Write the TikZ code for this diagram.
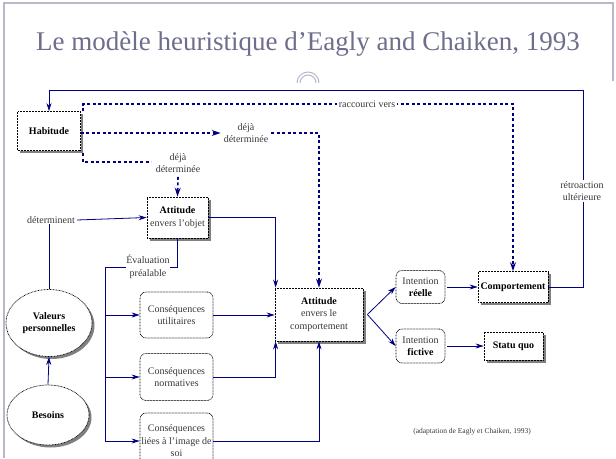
\documentclass[tikz,border=0pt]{standalone}
\usepackage{fontspec}
\setmainfont{Liberation Serif}
\usetikzlibrary{shapes.geometric,shadows,arrows.meta}
\definecolor{navy}{HTML}{000080}
\definecolor{titlecol}{HTML}{6E6E8C}
\definecolor{framecol}{HTML}{B8B8CC}
\begin{document}
\begin{tikzpicture}[x=1pt,y=-1pt,
  every node/.style={font=\fontsize{10}{12.5}\selectfont, text=black!78, align=center, inner sep=0pt},
  shadowed/.style={drop shadow={shadow xshift=2.5pt,shadow yshift=-2.5pt,fill=black!50,opacity=1}},
  border/.style={draw=black, line width=0.75pt, dash pattern=on 0.75pt off 0.75pt},
  box/.style={border, fill=white, rectangle, shadowed},
  rbox/.style={border, fill=white, rectangle, rounded corners=6pt},
  ell/.style={border, fill=white, ellipse, shadowed},
  lbl/.style={fill=white, inner sep=1.5pt},
  tip/.style={-{Stealth[length=8pt,width=5pt]}},
  line/.style={draw=navy, line width=0.8pt},
  con/.style={line, tip},
  dsh/.style={draw=navy, line width=1.6pt, dash pattern=on 3pt off 2.5pt},
  dcon/.style={dsh, -{Stealth[length=9pt,width=6pt]}}
]
\useasboundingbox (0,0) rectangle (616,458);
% slide frame
\draw[framecol, line width=1.5pt] (4,458) -- (4,3) -- (613,3) -- (613,81);
\node[font=\fontsize{27}{30}\selectfont, text=titlecol, anchor=base] (title) at (308,50) {Le modèle heuristique d’Eagly and Chaiken, 1993};
\draw[framecol, line width=1pt] (297,83) arc[start angle=180,end angle=360,radius=11];
\draw[framecol, line width=1pt] (300,83) arc[start angle=180,end angle=360,radius=8];

% nodes
\node[box, minimum width=63pt, minimum height=39pt] (hab) at (49,131) {\textbf{\color{black}Habitude}};
\node[box, minimum width=61pt, minimum height=41pt] (attobj) at (177.5,217.5) {\textbf{\color{black}Attitude}\\envers l’objet};
\node[ell, minimum width=86pt, minimum height=67pt] (val) at (49,323) {\textbf{\color{black}Valeurs}\\\textbf{\color{black}personnelles}};
\node[ell, minimum width=82pt, minimum height=60pt] (bes) at (48,415) {\textbf{\color{black}Besoins}};
\node[rbox, minimum width=73pt, minimum height=46pt] (util) at (176.5,315) {Conséquences\\utilitaires};
\node[rbox, minimum width=73pt, minimum height=47pt] (norm) at (176.5,377) {Conséquences\\normatives};
\node[rbox, minimum width=73pt, minimum height=56pt] (soi) at (176.5,441) {Conséquences\\liées à l’image de\\soi};
\node[box, minimum width=88pt, minimum height=53pt] (attcomp) at (319,314.5) {\textbf{\color{black}Attitude}\\envers le\\comportement};
\node[rbox, minimum width=49pt, minimum height=33pt] (intr) at (420.5,287) {Intention\\\textbf{\color{black}réelle}};
\node[rbox, minimum width=49pt, minimum height=34pt] (intf) at (420.5,346) {Intention\\\textbf{\color{black}fictive}};
\node[box, minimum width=70pt, minimum height=31pt] (comp) at (513,287) {\textbf{\color{black}Comportement}};
\node[box, minimum width=59pt, minimum height=28pt] (statu) at (513.5,346) {\textbf{\color{black}Statu quo}};

% labels
\node (det) at (51,220) {déterminent};
\node (dd1) at (246,133) {déjà\\déterminée};
\node (dd2) at (178,163) {déjà\\déterminée};
\node[font=\fontsize{7.5}{9}\selectfont] (cap) at (472,432) {(adaptation de Eagly et Chaiken, 1993)};

% coordinates
\coordinate (r1) at (583,90);
\coordinate (t1) at (83,111);
\coordinate (t2) at (83,104);
\coordinate (b1) at (83,153);
\coordinate (b2) at (83,162);
\coordinate (b3) at (151,162);
\coordinate (ev) at (105,267);
\coordinate (evend) at (105,441);

% feedback loop
\draw[con] (comp.east) -| (r1) -| (hab.north);
\node[lbl] (retro) at (582,191) {rétroaction\\ultérieure};

% dashed shortcuts
\draw[dcon] (t1) -- (t2) -| (comp.north);
\node[lbl] (racc) at (367,104) {raccourci vers};
\draw[dcon] (hab.east |- dd1.west) -- ([xshift=-3pt]dd1.west);
\draw[dcon] ([xshift=3pt]dd1.east) -| (attcomp.north);
\draw[dsh] (b1) -- (b2) -- (b3);
\draw[dcon] ([yshift=-4pt]dd2.south) -- (attobj.north);

% values
\draw[line] (val.north) -- (val.north |- det.south);
\draw[con] ([xshift=2pt]det.east) -- (attobj.west);
\draw[con] (bes.north) -- (val.south);

% evaluation
\draw[line] (attobj.south) |- (ev) -- (evend);
\node[lbl, inner sep=0.5pt] (eval) at (148,267) {Évaluation\\préalable};
\draw[con] (ev |- util.west) -- (util.west);
\draw[con] (ev |- norm.west) -- (norm.west);
\draw[con] (evend) -- (evend -| soi.west);

% to attitude toward behaviour
\draw[con] (attobj.east) -| ([xshift=1pt]attcomp.north west);
\draw[con] (util.east) -- (util.east -| attcomp.west);
\draw[con] (norm.east) -| ([xshift=1pt]attcomp.south west);
\draw[con] (evend -| soi.east) -| (attcomp.south);

% intentions
\draw[con] ([xshift=4pt]attcomp.east) -- (intr.west);
\draw[con] ([xshift=4pt]attcomp.east) -- (intf.west);
\draw[con] ([xshift=2pt]intr.east) -- (comp.west);
\draw[con] ([xshift=2pt]intf.east) -- (statu.west);
\end{tikzpicture}
\end{document}
